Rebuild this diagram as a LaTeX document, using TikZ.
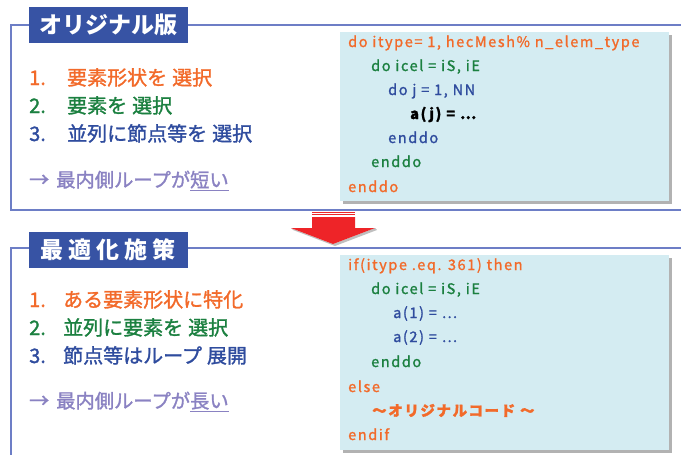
\documentclass[tikz,border=0pt]{standalone}
\usepackage{fontspec}
\setmainfont{Noto Sans CJK JP}
\newfontfamily\codefont[LetterSpace=11,FakeBold=1.4]{Noto Sans CJK JP}
\newfontfamily\listfont[FakeBold=1.4]{Noto Sans CJK JP}
\newfontfamily\titlefont{Noto Sans CJK JP}
\definecolor{cOrange}{HTML}{F26A2A}
\definecolor{cGreen}{HTML}{1B8040}
\definecolor{cBlue}{HTML}{2F4C9E}
\definecolor{cLav}{HTML}{8A82C2}
\definecolor{cTitle}{HTML}{3753A4}
\definecolor{cFrame}{HTML}{6D7EC6}
\definecolor{cCode}{HTML}{D4ECF2}
\definecolor{cRed}{HTML}{EE2428}
\tikzset{
  lst/.style={anchor=base west, inner sep=0pt, font=\listfont\fontsize{20}{22}\selectfont},
  codeln/.style={anchor=base west, inner sep=0pt, font=\codefont\fontsize{14.5}{16}\selectfont},
  ttl/.style={fill=cTitle, text=white, inner sep=0pt, font=\titlefont\bfseries\fontsize{23}{26}\selectfont},
  frameln/.style={draw=cFrame, line width=1.4pt},
  codebox/.style={fill=cCode},
  shadowbox/.style={fill=black!30},
}
\newcommand{\gp}{\hspace{5pt}}
\begin{document}
\begin{tikzpicture}[x=1pt,y=-1pt]
\useasboundingbox (0,0) rectangle (681,455);
% frames
\draw[frameln] (682,25) -- (11,25) -- (11,210) -- (682,210);
\draw[frameln] (682,248) -- (11,248) -- (11,456);
% title boxes
\fill[cTitle] (29,7) rectangle (188,43);
\node[ttl] (t1) at (108.5,25) {オリジナル版};
\fill[cTitle] (29,232) rectangle (188,268);
\node[ttl] (t2) at (108.5,250) {最\hspace{5pt}適\hspace{5pt}化\hspace{5pt}施\hspace{5pt}策};
% code boxes
\fill[shadowbox] (343,35) rectangle (672,204);
\fill[codebox] (340,32) rectangle (669,201);
\fill[shadowbox] (343,258) rectangle (672,453);
\fill[codebox] (340,255) rectangle (669,450);
% top list
\node[lst, text=cOrange] (n1) at (29,85) {1.};
\node[lst, text=cOrange] (a1) at (67,85) {要素形状を\gp 選択};
\node[lst, text=cGreen] (n2) at (29,113) {2.};
\node[lst, text=cGreen] (a2) at (67,113) {要素を\gp 選択};
\node[lst, text=cBlue] (n3) at (29,141) {3.};
\node[lst, text=cBlue] (a3) at (67,141) {並列に節点等を\gp 選択};
\node[lst, text=cLav] (a4a) at (29,187) {→};
\node[lst, text=cLav, font=\listfont\fontsize{19.3}{22}\selectfont] (a4) at (56,187) {最内側ループが\underline{短い}};
% bottom list
\node[lst, text=cOrange] (m1) at (29,307) {1.};
\node[lst, text=cOrange] (b1) at (63,307) {ある要素形状に特化};
\node[lst, text=cGreen] (m2) at (29,335) {2.};
\node[lst, text=cGreen] (b2) at (63,335) {並列に要素を\gp 選択};
\node[lst, text=cBlue] (m3) at (29,363) {3.};
\node[lst, text=cBlue] (b3) at (63,363) {節点等はループ\gp 展開};
\node[lst, text=cLav] (b4a) at (29,408) {→};
\node[lst, text=cLav, font=\listfont\fontsize{19.3}{22}\selectfont] (b4) at (56,408) {最内側ループが\underline{長い}};
% top code
\node[codeln, text=cOrange] (c1) at (348,47) {do itype= 1, hecMesh\% n\_elem\_type};
\node[codeln, text=cGreen] (c2) at (371,71) {do icel = iS, iE};
\node[codeln, text=cBlue] (c3) at (388,95) {do j = 1, NN};
\node[codeln, text=black, font=\codefont\bfseries\fontsize{14.5}{16}\selectfont] (c4) at (410,119) {a(j) = …};
\node[codeln, text=cBlue] (c5) at (388,143) {enddo};
\node[codeln, text=cGreen] (c6) at (371,167) {enddo};
\node[codeln, text=cOrange] (c7) at (348,192) {enddo};
% bottom code
\node[codeln, text=cOrange] (d1) at (348,270) {if(itype .eq. 361) then};
\node[codeln, text=cGreen] (d2) at (371,294) {do icel = iS, iE};
\node[codeln, text=cBlue] (d3) at (393,318) {a(1) = …};
\node[codeln, text=cBlue] (d4) at (393,342) {a(2) = …};
\node[codeln, text=cGreen] (d5) at (371,367) {enddo};
\node[codeln, text=cOrange] (d6) at (348,392) {else};
\node[codeln, text=cOrange, font=\codefont\bfseries\fontsize{14.5}{16}\selectfont] (d7) at (372,416) {～オリジナルコード ～};
\node[codeln, text=cOrange] (d8) at (348,440) {endif};
% red arrow
\fill[black!25] (293,230) -- (335,246) -- (377,230) -- (375,228) -- (333,244) -- (291,228) -- cycle;
\fill[cRed] (312,217) -- (355,217) -- (355,228) -- (375,228) -- (333,244) -- (291,228) -- (312,228) -- cycle;
\draw[cRed, line width=0.9pt] (312,212.8) -- (355,212.8);
\draw[cRed, line width=0.9pt] (312,214.8) -- (355,214.8);
\end{tikzpicture}
\end{document}
